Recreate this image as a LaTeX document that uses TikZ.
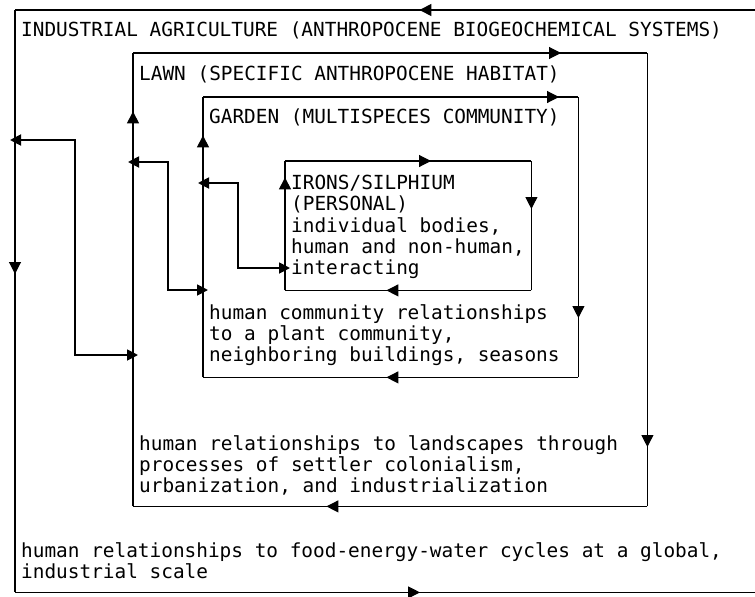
\documentclass[tikz,border=0pt]{standalone}
\usepackage{fontspec}
\setmonofont{DejaVu Sans Mono}
\usetikzlibrary{arrows.meta,positioning,decorations.markings}
\tikzstyle{frame}=[rectangle,inner sep=0,anchor=north west]
\newcommand{\asciifont}{\ttfamily\fontsize{19.4}{21.3}\selectfont}

\begin{document}
\begin{tikzpicture}[x=1pt,y=-1pt,
    side/.style={draw=black,line width=1.1pt},
    txt/.style={anchor=north west,inner sep=0,align=left,font=\asciifont},
    tipat/.style={postaction={decorate},decoration={markings,
        mark=at position #1pt with {\arrow{Triangle[length=12pt,width=12pt]}}}},
    link/.style={draw=black,line width=1.8pt,
        {Triangle[length=11pt,width=11pt]}-{Triangle[length=11pt,width=11pt]},
        shorten <=-5pt,shorten >=-5pt}
    ]
    \useasboundingbox (0,0) rectangle (755,597);

    % the four frames, outermost first
    \node[frame,minimum width=745pt,minimum height=582pt] (ind) at (15,10) {};
    \node[frame,minimum width=514pt,minimum height=453pt] (lawn) at (133,53) {};
    \node[frame,minimum width=375pt,minimum height=280pt] (garden) at (203,97) {};
    \node[frame,minimum width=246pt,minimum height=129pt] (irons) at (285,161) {};

    % industrial agriculture (right side runs off the page)
    \draw[side,tipat=341] (ind.north east) -- (ind.north west);
    \draw[side,tipat=264] (ind.north west) -- (ind.south west);
    \draw[side,tipat=405] (ind.south west) -- (ind.south east);

    % lawn
    \draw[side,tipat=428] (lawn.north west) -- (lawn.north east);
    \draw[side,tipat=394] (lawn.north east) -- (lawn.south east);
    \draw[side,tipat=321] (lawn.south east) -- (lawn.south west);
    \draw[side,tipat=395] (lawn.south west) -- (lawn.north west);

    % garden
    \draw[side,tipat=356] (garden.north west) -- (garden.north east);
    \draw[side,tipat=221] (garden.north east) -- (garden.south east);
    \draw[side,tipat=192] (garden.south east) -- (garden.south west);
    \draw[side,tipat=242] (garden.south west) -- (garden.north west);

    % irons/silphium
    \draw[side,tipat=146] (irons.north west) -- (irons.north east);
    \draw[side,tipat=48] (irons.north east) -- (irons.south east);
    \draw[side,tipat=145] (irons.south east) -- (irons.south west);
    \draw[side,tipat=113] (irons.south west) -- (irons.north west);

    % links between the scales
    \coordinate (b1) at (238,225);
    \coordinate (b2) at (168,225);
    \coordinate (b3) at (75,250);
    \draw[link] ([yshift=-86pt]garden.north west) -| (b1) |- ([yshift=-107pt]irons.north west);
    \draw[link] ([yshift=-109pt]lawn.north west) -| (b2) |- ([yshift=-193pt]garden.north west);
    \draw[link] ([yshift=-130pt]ind.north west) -| (b3) |- ([yshift=-302pt]lawn.north west);

    % labels
    \node[txt] (indtitle) at (21,22) {INDUSTRIAL AGRICULTURE (ANTHROPOCENE BIOGEOCHEMICAL SYSTEMS)};
    \node[txt] (lawntitle) at (139,66) {LAWN (SPECIFIC ANTHROPOCENE HABITAT)};
    \node[txt] (gardentitle) at (209,109) {GARDEN (MULTISPECES COMMUNITY)};
    \node[txt] (ironstext) at (291,175) {IRONS/SILPHIUM\\(PERSONAL)\\individual bodies,\\human and non-human,\\interacting};
    \node[txt] (gardentext) at (209,304) {human community relationships\\to a plant community,\\neighboring buildings, seasons};
    \node[txt] (lawntext) at (139,435) {human relationships to landscapes through\\processes of settler colonialism,\\urbanization, and industrialization};
    \node[txt] (indtext) at (21,542) {human relationships to food-energy-water cycles at a global,\\industrial scale};

\end{tikzpicture}
\end{document}
